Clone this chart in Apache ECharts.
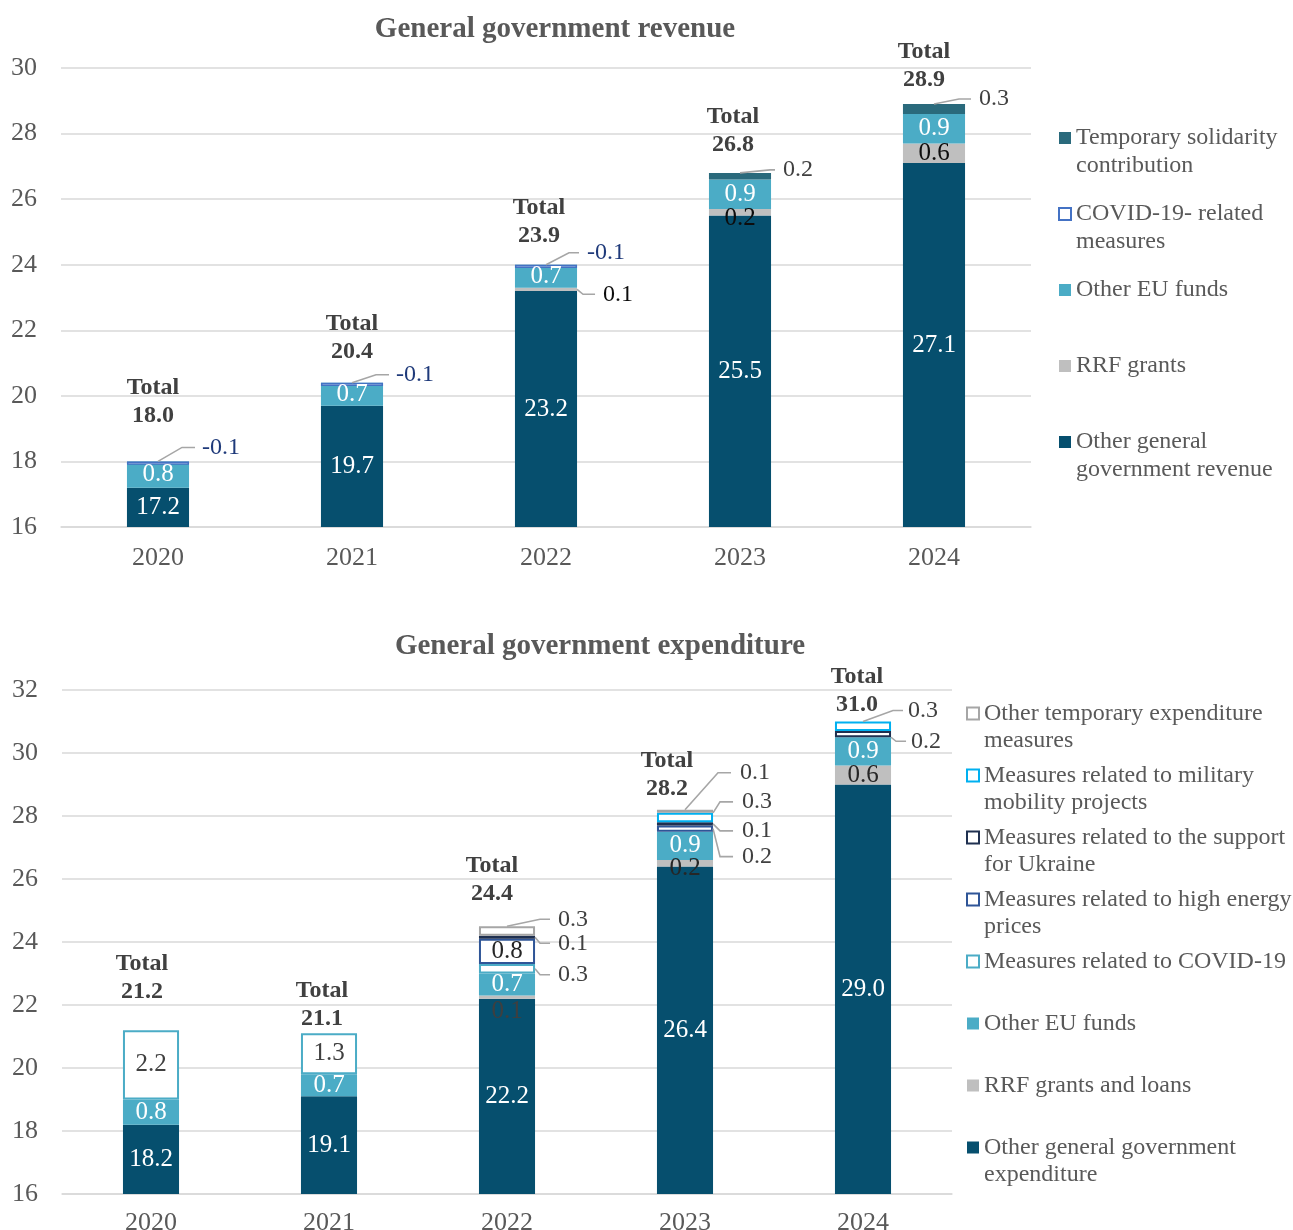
<!DOCTYPE html>
<html>
<head>
<meta charset="utf-8">
<title>General government revenue and expenditure</title>
<script src="https://cdn.jsdelivr.net/npm/echarts/dist/echarts.min.js"></script>
<style>
  html, body { margin: 0; padding: 0; background: #ffffff; }
  #chart { width: 1293px; height: 1230px; }
</style>
</head>
<body>
<div id="chart"></div>
<script>
// ---- data (% of GDP) -------------------------------------------------------
const years = ['2020', '2021', '2022', '2023', '2024'];

// General government revenue
const revOther       = [17.2, 19.7, 23.2, 25.5, 27.1];
const revRRF         = [null, null, 0.1, 0.2, 0.6];
const revEU          = [0.8, 0.7, 0.7, 0.9, 0.9];
const revCovid       = [-0.1, -0.1, -0.1, null, null];
const revSolidarity  = [null, null, null, 0.2, 0.3];
const revTotal       = [18.0, 20.4, 23.9, 26.8, 28.9];

// General government expenditure
const expOther       = [18.2, 19.1, 22.2, 26.4, 29.0];
const expRRF         = [null, null, 0.1, 0.2, 0.6];
const expEU          = [0.8, 0.7, 0.7, 0.9, 0.9];
const expCovid       = [2.2, 1.3, 0.3, null, null];
const expEnergy      = [null, null, 0.8, 0.2, null];
const expUkraine     = [null, null, 0.1, 0.1, 0.2];
const expMilitary    = [null, null, null, 0.3, 0.3];
const expOtherTemp   = [null, null, 0.3, 0.1, null];
const expTotal       = [21.2, 21.1, 24.4, 28.2, 31.0];

// value axis ranges
const revAxis = { min: 16, max: 30, interval: 2 };
const expAxis = { min: 16, max: 32, interval: 2 };

// ---- styling -----------------------------------------------------------------
const FONT = '"Liberation Serif", "Times New Roman", Times, serif';
const TEXT = '#595959';
const GRID_LINE = '#D9D9D9';
const C_OTHER = '#064F6E';
const C_EU = '#4BACC6';
const C_RRF = '#BFBFBF';
const C_SOLID = '#2A6A7C';
const BAR_FRAC = [0.32, 0.315];

const fmt = v => (v == null ? '' : Number(v).toFixed(1));

// stacks, bottom to top
const revStack = [revOther, revRRF, revEU, revCovid, revSolidarity];
const expStack = [expOther, expRRF, expEU, expCovid, expEnergy, expUkraine, expMilitary, expOtherTemp];

function segment(stack, k, i) {
  let base = 0;
  for (let j = 0; j < k; j++) base += stack[j][i] || 0;
  const v = stack[k][i];
  return { lo: Math.min(base, base + v), hi: Math.max(base, base + v), v };
}

function bar(name, data, axis, stack, itemStyle, label, perItem) {
  return {
    type: 'bar', name, stack, stackStrategy: 'all',
    xAxisIndex: axis, yAxisIndex: axis,
    barWidth: (BAR_FRAC[axis] * 100) + '%',
    itemStyle,
    emphasis: { disabled: true },
    label: Object.assign({
      show: true, position: 'inside', fontFamily: FONT, fontSize: 25,
      color: '#ffffff', textBorderWidth: 0, formatter: p => fmt(p.value)
    }, label),
    data: data.map((v, i) => {
      // an empty component keeps its place in the stack with zero height
      if (v == null) return { value: 0, itemStyle: { borderWidth: 0 }, label: { show: false } };
      const o = perItem && perItem[i];
      return o ? { value: v, label: o } : v;
    })
  };
}

const boxed = (c, w) => ({ color: '#ffffff', borderColor: c, borderWidth: w });

// ---- leader-line labels ------------------------------------------------------
// k: index in stack, i: year index, ax: 'c' (bar centre) or 'r' (right edge),
// at: which edge of the segment the line starts from
const revCallouts = [
  { k: 3, i: 0, ax: 'c', at: 'hi',  dx: 24, dy: -14, len: 13, gap: 7, color: '#1F3A7A' },
  { k: 3, i: 1, ax: 'c', at: 'hi',  dx: 24, dy: -8,  len: 13, gap: 7, color: '#1F3A7A' },
  { k: 3, i: 2, ax: 'c', at: 'hi',  dx: 23, dy: -12, len: 10, gap: 8, color: '#1F3A7A' },
  { k: 1, i: 2, ax: 'r', at: 'mid', dx: 6,  dy: 5,   len: 12, gap: 8, color: '#0D0D0D' },
  { k: 4, i: 3, ax: 'c', at: 'hi',  dx: 30, dy: -3,  len: 5,  gap: 8, color: '#404040' },
  { k: 4, i: 4, ax: 'c', at: 'hi',  dx: 25, dy: -5,  len: 12, gap: 8, color: '#404040' }
];
const expCallouts = [
  { k: 7, i: 2, ax: 'c', at: 'hi',  dx: 33, dy: -7,  len: 10, gap: 8, color: '#404040' },
  { k: 5, i: 2, ax: 'r', at: 'mid', dx: 5,  dy: 6,   len: 10, gap: 8, color: '#404040' },
  { k: 3, i: 2, ax: 'r', at: 'mid', dx: 5,  dy: 6,   len: 10, gap: 8, color: '#404040' },
  { k: 7, i: 3, ax: 'c', at: 'hi',  dx: 33, dy: -37, len: 13, gap: 9, color: '#404040' },
  { k: 6, i: 3, ax: 'r', at: 'hi',  dx: 7,  dy: -11, len: 13, gap: 9, color: '#404040' },
  { k: 5, i: 3, ax: 'r', at: 'mid', dx: 7,  dy: 7,   len: 13, gap: 9, color: '#404040' },
  { k: 4, i: 3, ax: 'r', at: 'mid', dx: 7,  dy: 28,  len: 13, gap: 9, color: '#404040' },
  { k: 6, i: 4, ax: 'c', at: 'hi',  dx: 30, dy: -11, len: 10, gap: 5, color: '#404040' },
  { k: 5, i: 4, ax: 'r', at: 'lo',  dx: 5,  dy: 4,   len: 10, gap: 5, color: '#404040' }
];

function calloutSeries(axis, stack, specs) {
  return {
    type: 'custom', xAxisIndex: axis, yAxisIndex: axis, silent: true, clip: false, z: 10,
    encode: { x: 0, y: 1 },
    data: specs.map((s, n) => {
      const seg = segment(stack, s.k, s.i);
      const y = s.at === 'hi' ? seg.hi : s.at === 'lo' ? seg.lo : (seg.lo + seg.hi) / 2;
      return [s.i, y, seg.v, n];
    }),
    renderItem(params, api) {
      const s = specs[api.value(3)];
      const p = api.coord([api.value(0), api.value(1)]);
      const half = api.size([1, 0])[0] * BAR_FRAC[axis] / 2;
      const x0 = p[0] + (s.ax === 'r' ? half : 0), y0 = p[1];
      const x1 = x0 + s.dx, y1 = y0 + s.dy, x2 = x1 + s.len;
      return {
        type: 'group',
        children: [
          { type: 'polyline', shape: { points: [[x0, y0], [x1, y1], [x2, y1]] },
            style: { stroke: '#A6A6A6', lineWidth: 1.6, fill: null } },
          { type: 'text', x: x2 + s.gap, y: y1,
            style: { text: fmt(api.value(2)), fill: s.color, font: '24px ' + FONT,
                     align: 'left', verticalAlign: 'middle' } }
        ]
      };
    }
  };
}

// ---- totals above the bars ---------------------------------------------------
const totalLayout = [
  [{ dx: -5, d: 46 }, { dx: 0, d: 31 }, { dx: -7, d: 32 }, { dx: -7, d: 28 }, { dx: -10, d: 24 }],
  [{ dx: -9, d: 38 }, { dx: -7, d: 15 }, { dx: -15, d: 36 }, { dx: -18, d: 21 }, { dx: -6, d: 17 }]
];

function totalSeries(axis, totals) {
  return {
    type: 'custom', xAxisIndex: axis, yAxisIndex: axis, silent: true, clip: false, z: 10,
    encode: { x: 0, y: 1 },
    data: totals.map((t, i) => [i, t]),
    renderItem(params, api) {
      const i = api.value(0);
      const p = api.coord([i, api.value(1)]);
      const L = totalLayout[axis][i];
      return {
        type: 'text', x: p[0] + L.dx, y: p[1] - L.d + 14,
        style: { text: 'Total\n' + fmt(api.value(1)), fill: '#404040',
                 font: 'bold 24px ' + FONT, lineHeight: 28,
                 align: 'center', verticalAlign: 'bottom' }
      };
    }
  };
}

// ---- axes ----------------------------------------------------------------------
function catAxis(grid, margin) {
  return {
    type: 'category', gridIndex: grid, data: years,
    axisTick: { show: false },
    axisLine: { lineStyle: { color: GRID_LINE, width: 1.5 } },
    axisLabel: { fontFamily: FONT, fontSize: 26, color: TEXT, margin }
  };
}
function valAxis(grid, r) {
  return {
    type: 'value', gridIndex: grid, min: r.min, max: r.max, interval: r.interval,
    axisLine: { show: false }, axisTick: { show: false },
    axisLabel: { fontFamily: FONT, fontSize: 26, color: TEXT, margin: 24 },
    splitLine: { lineStyle: { color: GRID_LINE, width: 1.5 } }
  };
}

// ---- legends -------------------------------------------------------------------
const revLegendText = {
  'Temporary solidarity contribution': 'Temporary solidarity\ncontribution',
  'COVID-19- related measures': 'COVID-19- related\nmeasures',
  'Other EU funds ': 'Other EU funds',
  'RRF grants': 'RRF grants',
  'Other general government revenue': 'Other general\ngovernment revenue'
};
const expLegendText = {
  'Other temporary expenditure measures': 'Other temporary expenditure\nmeasures',
  'Measures related to military mobility projects': 'Measures related to military\nmobility projects',
  'Measures related to the support for Ukraine': 'Measures related to the support\nfor Ukraine',
  'Measures related to high energy prices': 'Measures related to high energy\nprices',
  'Measures related to COVID-19': 'Measures related to COVID-19',
  'Other EU funds': 'Other EU funds',
  'RRF grants and loans': 'RRF grants and loans',
  'Other general government expenditure': 'Other general government\nexpenditure'
};

// Every entry is laid out as three lines so that the marker sits beside the
// first line of text and all entries share the same height.
function legendLines(t) {
  return t.indexOf('\n') >= 0 ? '\u00a0\n' + t : '\u00a0\n' + t + '\n\u00a0';
}

function legend(map, left, top, lineH, gap) {
  return {
    orient: 'vertical', left, top, padding: 0, itemGap: gap,
    itemWidth: 12, itemHeight: 12, selectedMode: false, icon: 'rect',
    textStyle: { fontFamily: FONT, fontSize: 24, color: TEXT, lineHeight: lineH },
    formatter: n => legendLines(map[n]),
    data: Object.keys(map)
  };
}

// ---- chart ---------------------------------------------------------------------
const chart = echarts.init(document.getElementById('chart'), null, { renderer: 'canvas' });

chart.setOption({
  animation: false,
  backgroundColor: '#ffffff',
  title: [
    { text: 'General government revenue', left: 555, top: 15, textAlign: 'center', padding: 0,
      textStyle: { fontFamily: FONT, fontSize: 29, fontWeight: 'bold', color: TEXT } },
    { text: 'General government expenditure', left: 600, top: 632, textAlign: 'center', padding: 0,
      textStyle: { fontFamily: FONT, fontSize: 29, fontWeight: 'bold', color: TEXT } }
  ],
  grid: [
    { left: 61, top: 68, width: 970, height: 459, outerBoundsMode: 'none' },
    { left: 62, top: 690, width: 890, height: 504, outerBoundsMode: 'none' }
  ],
  xAxis: [catAxis(0, 18), catAxis(1, 16)],
  yAxis: [valAxis(0, revAxis), valAxis(1, expAxis)],
  legend: [
    legend(revLegendText, 1058, 96, 28, -8),
    legend(expLegendText, 966, 673, 27, -19)
  ],
  series: [
    // revenue
    bar('Other general government revenue', revOther, 0, 'rev', { color: C_OTHER }),
    bar('RRF grants', revRRF, 0, 'rev', { color: C_RRF }, { color: '#0D0D0D' },
        [null, null, { show: false }, { offset: [0, 6] }, null]),
    bar('Other EU funds ', revEU, 0, 'rev', { color: C_EU }),
    bar('COVID-19- related measures', revCovid, 0, 'rev', boxed('#4472C4', 1.5), { show: false }),
    bar('Temporary solidarity contribution', revSolidarity, 0, 'rev', { color: C_SOLID }, { show: false }),
    calloutSeries(0, revStack, revCallouts),
    totalSeries(0, revTotal),

    // expenditure
    bar('Other general government expenditure', expOther, 1, 'exp', { color: C_OTHER }),
    bar('RRF grants and loans', expRRF, 1, 'exp', { color: C_RRF }, { color: '#262626' },
        [null, null, { offset: [0, 14], color: '#3F3F3F' }, { offset: [0, 5] }, null]),
    bar('Other EU funds', expEU, 1, 'exp', { color: C_EU }),
    bar('Measures related to COVID-19', expCovid, 1, 'exp', boxed('#4BACC6', 2), { color: '#404040' },
        [null, null, { show: false }, null, null]),
    bar('Measures related to high energy prices', expEnergy, 1, 'exp', boxed('#2F5597', 2), { color: '#262626' },
        [null, null, null, { show: false }, null]),
    bar('Measures related to the support for Ukraine', expUkraine, 1, 'exp', boxed('#1F3050', 2), { show: false }),
    bar('Measures related to military mobility projects', expMilitary, 1, 'exp', boxed('#00B0F0', 2), { show: false }),
    bar('Other temporary expenditure measures', expOtherTemp, 1, 'exp', boxed('#A6A6A6', 2), { show: false }),
    calloutSeries(1, expStack, expCallouts),
    totalSeries(1, expTotal)
  ]
});
</script>
</body>
</html>
